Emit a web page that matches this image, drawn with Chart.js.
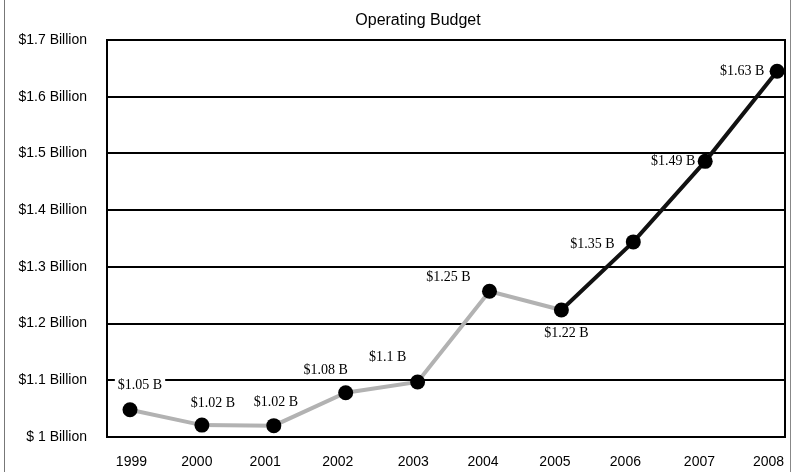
<!DOCTYPE html>
<html>
<head>
<meta charset="utf-8">
<script src="https://cdn.jsdelivr.net/npm/chart.js@4"></script>
<style>
  body { margin: 0; background: #fff; }
  #wrap { position: relative; width: 795px; height: 472px; }
  #wrap:before { content: ""; position: absolute; left: 4px; top: 0; bottom: 0; border-left: 1px solid #777; }
  #wrap:after { content: ""; position: absolute; left: 790px; top: 0; bottom: 0; border-left: 1px solid #888; }
</style>
</head>
<body>
<div id="wrap"><canvas id="budgetChart" width="795" height="472"></canvas></div>
<script>
// data
const years = [1999, 2000, 2001, 2002, 2003, 2004, 2005, 2006, 2007, 2008];
const budget = [1.048, 1.021, 1.02, 1.078, 1.097, 1.257, 1.224, 1.344, 1.486, 1.645];
const budgetLabels = ["$1.05 B", "$1.02 B", "$1.02 B", "$1.08 B", "$1.1 B", "$1.25 B", "$1.22 B", "$1.35 B", "$1.49 B", "$1.63 B"];
// the year labels in the original sit a little left of their dots
const yearTickPos = [1999.02, 1999.93, 2000.88, 2001.89, 2002.94, 2003.91, 2004.91, 2005.89, 2006.92, 2007.88];
const yTicks = [1.0, 1.1, 1.2, 1.3, 1.4, 1.5, 1.6, 1.7];
const yTickLabels = ["$ 1 Billion", "$1.1 Billion", "$1.2 Billion", "$1.3 Billion", "$1.4 Billion", "$1.5 Billion", "$1.6 Billion", "$1.7 Billion"];

// where each value label sits relative to its dot
const labelOffsets = [[10, -24], [11, -22], [2, -23], [-20, -22], [-30, -25], [-41, -14], [5, 23], [-41, 2], [-32, 0], [-35, 0]];

const GRAY = '#b2b2b2';
const DARK = '#111';

// title, frame round the plot area, value labels
const extras = {
  id: 'extras',
  beforeDatasetsDraw(chart) {
    const a = chart.chartArea;
    const ctx = chart.ctx;
    ctx.save();
    ctx.strokeStyle = '#000';
    ctx.lineWidth = 2;
    ctx.strokeRect(a.left, a.top, a.right - a.left, a.bottom - a.top);
    ctx.font = '16px "Liberation Sans", Arial, sans-serif';
    ctx.fillStyle = '#000';
    ctx.textAlign = 'center';
    ctx.textBaseline = 'middle';
    ctx.fillText('Operating Budget', 418, 21);

    // value labels knock out the grid lines behind them
    const pts = chart.getDatasetMeta(0).data;
    ctx.font = '14px "Liberation Serif", "Times New Roman", serif';
    ctx.fillStyle = '#fff';
    pts.forEach((p, i) => {
      const off = labelOffsets[i];
      const w = ctx.measureText(budgetLabels[i]).width + 6;
      ctx.fillRect(p.x + off[0] - w / 2, p.y + off[1] - 7, w, 14);
    });
    ctx.restore();
  },
  afterDatasetsDraw(chart) {
    const ctx = chart.ctx;
    const pts = chart.getDatasetMeta(0).data;
    ctx.save();
    ctx.font = '14px "Liberation Serif", "Times New Roman", serif';
    ctx.fillStyle = '#000';
    ctx.textAlign = 'center';
    ctx.textBaseline = 'middle';
    pts.forEach((p, i) => {
      const off = labelOffsets[i];
      ctx.fillText(budgetLabels[i], p.x + off[0], p.y + off[1]);
    });
    ctx.restore();
  }
};

const budgetCanvas = document.getElementById("budgetChart");

let budgetChart = new Chart(budgetCanvas, {
  type: 'line',
  data: {
    datasets: [{
      data: years.map((y, i) => ({ x: y, y: budget[i] })),
      borderWidth: 4,
      borderColor: GRAY,
      segment: {
        borderColor: c => c.p0DataIndex >= 6 ? DARK : GRAY
      },
      pointRadius: 7.5,
      pointBackgroundColor: '#000',
      pointBorderWidth: 0,
      tension: 0
    }]
  },
  options: {
    responsive: false,
    animation: { duration: 0 },
    layout: { padding: { top: 40, right: 10, bottom: 0, left: 0 } },
    scales: {
      x: {
        type: 'linear',
        min: 1998.68,
        max: 2008.11,
        afterBuildTicks: s => { s.ticks = yearTickPos.map(v => ({ value: v })); },
        afterFit: s => { s.height = 35; s.paddingLeft = 0; s.paddingRight = 0; },
        grid: { display: false, drawTicks: false },
        border: { display: false },
        ticks: {
          padding: 17,
          color: '#000',
          font: { family: '"Liberation Sans", Arial, sans-serif', size: 14 },
          callback: (v, i) => String(years[i])
        }
      },
      y: {
        min: 1.0,
        max: 1.7,
        afterBuildTicks: s => { s.ticks = yTicks.map(v => ({ value: v })); },
        afterFit: s => { s.width = 107; s.paddingTop = 0; s.paddingBottom = 0; },
        grid: { color: '#000', lineWidth: 2, drawTicks: false },
        border: { display: false },
        ticks: {
          padding: 20,
          color: '#000',
          font: { family: '"Liberation Sans", Arial, sans-serif', size: 14 },
          callback: (v, i) => yTickLabels[i]
        }
      }
    },
    plugins: {
      legend: { display: false },
      tooltip: { enabled: false },
      title: { display: false }
    }
  },
  plugins: [extras]
});
</script>
</body>
</html>
